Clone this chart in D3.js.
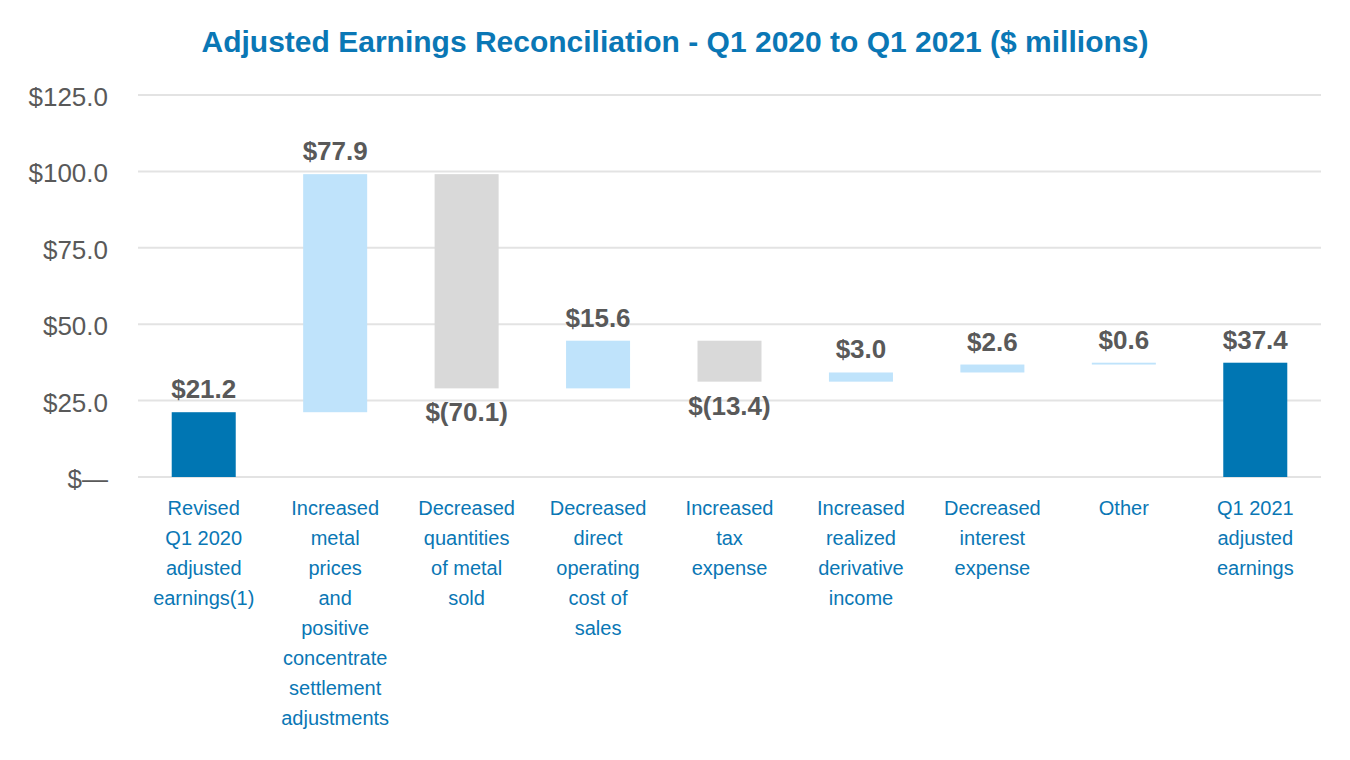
<!DOCTYPE html>
<html><head><meta charset="utf-8">
<script src="https://cdn.jsdelivr.net/npm/d3@7"></script>
<style>body{margin:0;background:#fff;}svg{display:block;}</style>
</head><body>
<svg id="c" width="1350" height="760"></svg>
<script>
const categories = [
  ["Revised","Q1 2020","adjusted","earnings(1)"],
  ["Increased","metal","prices","and","positive","concentrate","settlement","adjustments"],
  ["Decreased","quantities","of metal","sold"],
  ["Decreased","direct","operating","cost of","sales"],
  ["Increased","tax","expense"],
  ["Increased","realized","derivative","income"],
  ["Decreased","interest","expense"],
  ["Other"],
  ["Q1 2021","adjusted","earnings"]
];
const values = [21.2, 77.9, -70.1, 15.6, -13.4, 3.0, 2.6, 0.6, 37.4];
const isTotal = [true, false, false, false, false, false, false, false, true];
const valueLabels = ["$21.2","$77.9","$(70.1)","$15.6","$(13.4)","$3.0","$2.6","$0.6","$37.4"];
const yTicks = [0, 25, 50, 75, 100, 125];
const yTickLabels = ["$\u2014","$25.0","$50.0","$75.0","$100.0","$125.0"];
const title = "Adjusted Earnings Reconciliation - Q1 2020 to Q1 2021 ($ millions)";

const colors = {total:"#0076b3", up:"#bfe3fb", down:"#d9d9d9", text:"#595959", cat:"#0a77b5", grid:"#e3e3e3"};
const font = "'Liberation Sans', Arial, sans-serif";

// waterfall computation
let cum = 0;
const bars = values.map((v,i) => {
  let y0, y1;
  if (isTotal[i]) { y0 = 0; y1 = v; cum = v; }
  else { y0 = cum; y1 = cum + v; cum = y1; }
  return {i, v, lo: Math.min(y0,y1), hi: Math.max(y0,y1), total: isTotal[i]};
});

const svg = d3.select("#c");
const x = d3.scaleBand().domain(d3.range(values.length)).range([138, 1321]).paddingInner(0.513).paddingOuter(0.2565);
const y = d3.scaleLinear().domain([0,125]).range([477, 95]);

svg.append("text").attr("x", 675).attr("y", 52).attr("text-anchor","middle")
  .attr("font-family", font).attr("font-weight","bold").attr("font-size", 30)
  .attr("fill", colors.cat).text(title);

// gridlines
svg.append("g").selectAll("line").data(yTicks).join("line")
  .attr("x1", 138).attr("x2", 1321).attr("y1", d=>y(d)).attr("y2", d=>y(d))
  .attr("stroke", colors.grid).attr("stroke-width", 2);

// y labels
svg.append("g").selectAll("text").data(yTicks).join("text")
  .attr("x", 108).attr("y", d=>y(d)+11).attr("text-anchor","end")
  .attr("font-family", font).attr("font-size", 26).attr("fill", colors.text)
  .text((d,i)=>yTickLabels[i]);

// bars
svg.append("g").selectAll("rect").data(bars).join("rect")
  .attr("x", d=>x(d.i)).attr("width", x.bandwidth())
  .attr("y", d=>y(d.hi)).attr("height", d=>Math.max(1.5, y(d.lo)-y(d.hi)))
  .attr("fill", d=> d.total ? colors.total : (d.v>=0 ? colors.up : colors.down));

// value labels
svg.append("g").selectAll("text").data(bars).join("text")
  .attr("x", d=>x(d.i)+x.bandwidth()/2)
  .attr("y", d=> d.v>=0 ? y(d.hi)-14 : y(d.lo)+33)
  .attr("text-anchor","middle").attr("font-family", font).attr("font-weight","bold")
  .attr("font-size", 26).attr("fill", colors.text)
  .text((d,i)=>valueLabels[i]);

// category labels
const cg = svg.append("g").selectAll("text").data(categories).join("text")
  .attr("x", (d,i)=>x(i)+x.bandwidth()/2).attr("y", 515)
  .attr("text-anchor","middle").attr("font-family", font).attr("font-size", 20)
  .attr("fill", colors.cat);
cg.selectAll("tspan").data(d=>d).join("tspan")
  .attr("x", function(){ return d3.select(this.parentNode).attr("x"); })
  .attr("dy", (d,j)=> j===0 ? 0 : 30).text(d=>d);
</script>
</body></html>
